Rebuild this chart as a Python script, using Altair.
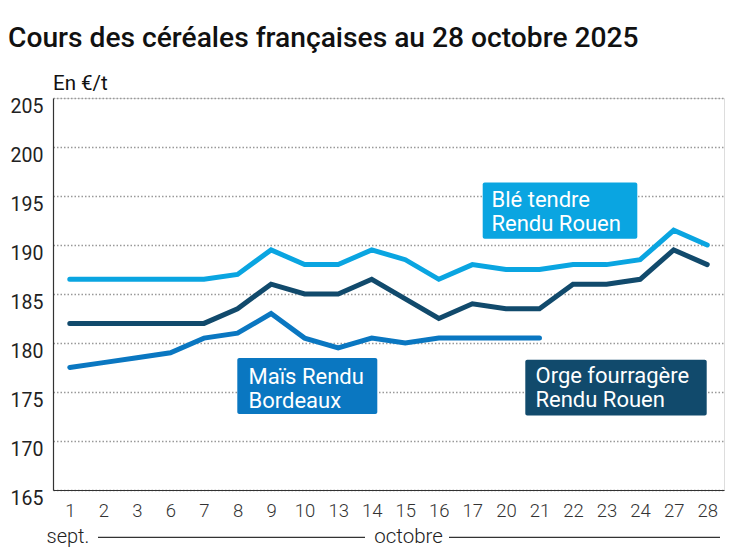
import altair as alt
import pandas as pd

dates = ["1", "2", "3", "6", "7", "8", "9", "10", "13", "14",
         "15", "16", "17", "20", "21", "22", "23", "24", "27", "28"]
ble = [186.5, 186.5, 186.5, 186.5, 186.5, 187.0, 189.5, 188.0, 188.0, 189.5,
       188.5, 186.5, 188.0, 187.5, 187.5, 188.0, 188.0, 188.5, 191.5, 190.0]
orge = [182.0, 182.0, 182.0, 182.0, 182.0, 183.5, 186.0, 185.0, 185.0, 186.5,
        184.5, 182.5, 184.0, 183.5, 183.5, 186.0, 186.0, 186.5, 189.5, 188.0]
mais = [177.5, 178.0, 178.5, 179.0, 180.5, 181.0, 183.0, 180.5, 179.5, 180.5,
        180.0, 180.5, 180.5, 180.5, 180.5, None, None, None, None, None]

series_names = ["Blé tendre Rendu Rouen", "Orge fourragère Rendu Rouen", "Maïs Rendu Bordeaux"]
series_colors = ["#0aa5e1", "#114a6c", "#0a77c1"]
y_ticks = [165, 170, 175, 180, 185, 190, 195, 200, 205]

rows = []
for name, vals in zip(series_names, [ble, orge, mais]):
    for d, v in zip(dates, vals):
        if v is not None:
            rows.append({"date": d, "value": v, "serie": name})
df = pd.DataFrame(rows)

FONT = "Roboto"

lines = alt.Chart(df).mark_line(strokeWidth=5, strokeCap="round").encode(
    x=alt.X("date:O", sort=dates, title=None,
            scale=alt.Scale(type="point", padding=0.5),
            axis=alt.Axis(labelAngle=0, labelFontSize=18.5, labelFontWeight=300,
                          labelColor="#333", labelPadding=11, ticks=False,
                          domainColor="#333", domainWidth=1.2, grid=False,
                          labelFont=FONT)),
    y=alt.Y("value:Q", title=None,
            scale=alt.Scale(domain=[165, 205], nice=False, zero=False),
            axis=alt.Axis(values=y_ticks, labelFontSize=19.5, labelColor="#222",
                          labelPadding=10, ticks=False, labelBaseline="top",
                          labelOffset=-1, domainColor="#333", domainWidth=1.2,
                          grid=True, gridColor="#999", gridDash=[1.5, 2],
                          gridWidth=1.5, labelFont=FONT)),
    color=alt.Color("serie:N", legend=None,
                    scale=alt.Scale(domain=series_names, range=series_colors)),
    detail="serie:N",
)

one = alt.Data(values=[{}])


def box(x1, x2, y1, y2, color, txt, tx, ty):
    r = alt.Chart(one).mark_rect(color=color, cornerRadius=2).encode(
        x=alt.value(x1), x2=alt.value(x2), y=alt.value(y1), y2=alt.value(y2))
    t = alt.Chart(one).mark_text(
        text=txt, lineBreak="\n", lineHeight=23.5, align="left",
        baseline="alphabetic", color="white", fontSize=22, font=FONT
    ).encode(x=alt.value(tx), y=alt.value(ty))
    return [r, t]


def label(txt, x, y, size, weight="normal", color="#111", align="left"):
    return alt.Chart(one).mark_text(
        text=txt, align=align, baseline="alphabetic", fontSize=size,
        fontWeight=weight, color=color, font=FONT
    ).encode(x=alt.value(x), y=alt.value(y))


layers = [lines]
layers += box(429.7, 584.3, 84.4, 140.7, series_colors[0], "Blé tendre\nRendu Rouen", 438.5, 109)
layers += box(472.3, 653.7, 261.7, 317.4, series_colors[1], "Orge fourragère\nRendu Rouen", 482.5, 285)
layers += box(184.3, 324.3, 260.0, 316.0, series_colors[2], "Maïs Rendu\nBordeaux", 195.5, 286)

layers.append(label("Cours des céréales françaises au 28 octobre 2025", -45, -51, 28.2, 500, "#111"))
layers.append(label("En €/t", 0, -8.5, 20.5, "normal", "#111"))
layers.append(label("sept.", -6.5, 444.5, 20, 300, "#222"))
layers.append(label("octobre", 321.3, 444.5, 20.5, 300, "#222"))

for x1, x2 in [(45, 312), (396, 667)]:
    layers.append(alt.Chart(one).mark_rule(color="#333", strokeWidth=1.2).encode(
        x=alt.value(x1), x2=alt.value(x2), y=alt.value(439.4)))

chart = alt.layer(*layers).properties(
    width=671, height=392,
    padding={"left": 45, "top": 90, "right": 15, "bottom": 60},
    autosize=alt.AutoSizeParams(type="none"),
).configure_view(stroke=None).configure(font=FONT)

chart.save("out.html", embed_options={"renderer": "svg", "actions": False})
